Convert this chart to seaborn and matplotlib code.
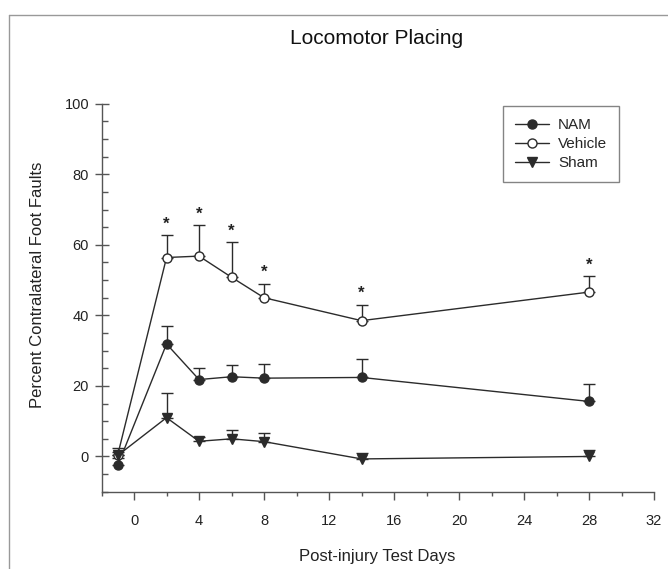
import numpy as np
import pandas as pd
import matplotlib
matplotlib.use("Agg")
import matplotlib.pyplot as plt
from matplotlib.lines import Line2D
from matplotlib.ticker import MultipleLocator
import seaborn as sns

# jours de test et valeurs
days = [-1, 2, 4, 6, 8, 14, 28]
nam = [-2.5, 31.9, 21.8, 22.6, 22.2, 22.4, 15.6]
nam_err = [2.0, 5.2, 3.3, 3.2, 4.1, 5.2, 5.0]
vehicle = [0.5, 56.4, 56.8, 50.8, 45.0, 38.5, 46.6]
vehicle_err = [1.9, 6.4, 8.7, 10.0, 4.0, 4.5, 4.6]
sham = [0.3, 11.0, 4.3, 5.0, 4.2, -0.7, 0.0]
sham_err = [1.1, 6.9, 1.2, 2.4, 2.4, 1.6, 1.9]
star_days = [2, 4, 6, 8, 14, 28]

sns.set_style("ticks")
plt.rcParams['font.family'] = ['Liberation Sans', 'DejaVu Sans']

fig = plt.figure(figsize=(6.68, 5.69), dpi=100)
ax = fig.add_axes([0.152, 0.1358, 0.8271, 0.6819])

line_col = '#2b2b2b'
groups = [
    ('NAM', nam, nam_err, 'o', line_col),
    ('Vehicle', vehicle, vehicle_err, 'o', 'white'),
    ('Sham', sham, sham_err, 'v', line_col),
]

for name, vals, errs, mk, face in groups:
    df = pd.DataFrame({'day': days, 'val': vals})
    # barres d'erreur vers le haut seulement
    ax.errorbar(days, vals, yerr=[np.zeros(len(errs)), errs], fmt='none',
                ecolor=line_col, elinewidth=1.0, capsize=4, capthick=1.0, zorder=2)
    sns.lineplot(data=df, x='day', y='val', ax=ax, color=line_col, lw=1.0,
                 marker=mk, markersize=6.5, markerfacecolor=face,
                 markeredgecolor=line_col, markeredgewidth=1.0, label=name,
                 zorder=3, legend=False)

# étoiles de significativité
for d, v, e in zip(days, vehicle, vehicle_err):
    if d in star_days:
        ax.text(d, v + e + 1.0, '*', ha='center', va='bottom', fontsize=12,
                fontweight='bold', color='#222222')

ax.set_xlim(-2, 32)
ax.set_ylim(-10, 100)
ax.xaxis.set_major_locator(MultipleLocator(4))
ax.xaxis.set_minor_locator(MultipleLocator(2))
ax.yaxis.set_major_locator(MultipleLocator(20))
ax.yaxis.set_minor_locator(MultipleLocator(5))
ax.set_xticks(np.arange(0, 33, 4))

spine_col = '#555555'
for s in ['top', 'right']:
    ax.spines[s].set_visible(False)
for s in ['left', 'bottom']:
    ax.spines[s].set_color(spine_col)
    ax.spines[s].set_linewidth(1.0)

ax.tick_params(axis='x', which='major', direction='out', length=6, width=1.0,
               color=spine_col, labelsize=10.5, pad=10, labelcolor='#222222')
ax.tick_params(axis='x', which='minor', direction='out', length=3, width=1.0, color=spine_col)
ax.tick_params(axis='y', which='major', direction='inout', length=10, width=1.0,
               color=spine_col, labelsize=10.5, pad=4, labelcolor='#222222')
ax.tick_params(axis='y', which='minor', direction='in', length=4, width=1.0, color=spine_col)

ax.set_xlabel('')
ax.set_ylabel('')
fig.text(377.5 / 668, 1 - 556 / 569, 'Post-injury Test Days', ha='center', va='center',
         fontsize=12, color='#222222')
fig.text(37.5 / 668, 1 - 285 / 569, 'Percent Contralateral Foot Faults', rotation=90,
         ha='center', va='center', fontsize=12, color='#222222')
fig.text(377 / 668, 1 - 39 / 569, 'Locomotor Placing', ha='center', va='center',
         fontsize=15, color='#111111')

handles = [
    Line2D([], [], color=line_col, lw=1.0, marker='o', markersize=6.5,
           markerfacecolor=line_col, markeredgecolor=line_col),
    Line2D([], [], color=line_col, lw=1.0, marker='o', markersize=6.5,
           markerfacecolor='white', markeredgecolor=line_col),
    Line2D([], [], color=line_col, lw=1.0, marker='v', markersize=6.5,
           markerfacecolor=line_col, markeredgecolor=line_col),
]
leg = ax.legend(handles, ['NAM', 'Vehicle', 'Sham'], loc='upper left',
                bbox_to_anchor=(503 / 668, 1 - 106 / 569), bbox_transform=fig.transFigure,
                borderaxespad=0, fontsize=11, frameon=True, fancybox=False,
                handlelength=2.2, handletextpad=0.6, borderpad=0.8, labelspacing=0.32)
leg.get_frame().set_edgecolor('#666666')
leg.get_frame().set_linewidth(1.0)

# cadre gris de la figure (gauche et haut)
fig.add_artist(Line2D([8.5 / 668, 8.5 / 668], [0, 1 - 15 / 569], color='#999999', lw=1.0))
fig.add_artist(Line2D([8.5 / 668, 1], [1 - 15 / 569, 1 - 15 / 569], color='#999999', lw=1.0))

fig.savefig('out.png', dpi=100)
